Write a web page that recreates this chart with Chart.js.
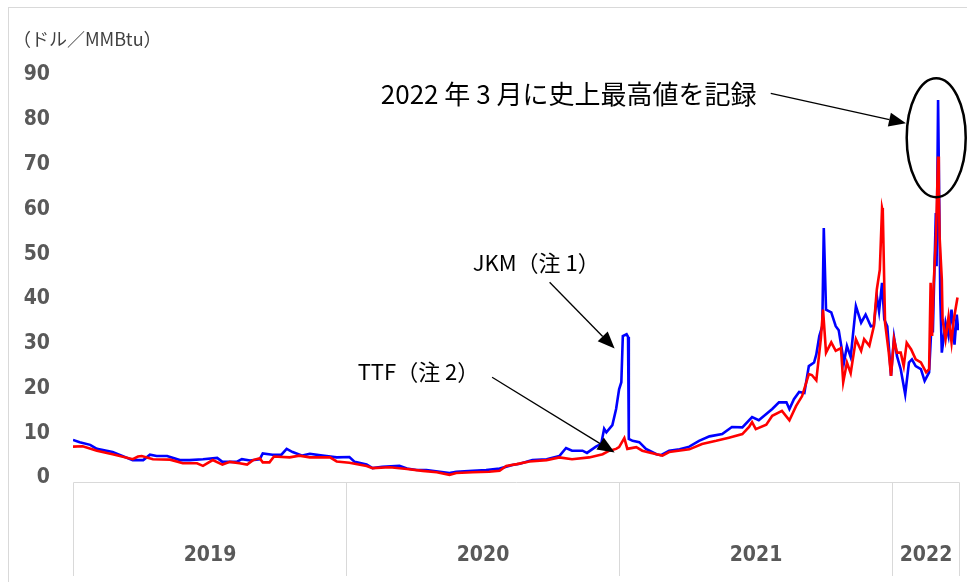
<!DOCTYPE html>
<html lang="ja">
<head>
<meta charset="utf-8">
<title>JKM / TTF</title>
<script src="https://cdn.jsdelivr.net/npm/chart.js@4.4.1/dist/chart.umd.min.js"></script>
<style>
  html, body { margin: 0; padding: 0; background: #fff; }
  #wrap { position: relative; width: 967px; height: 582px; overflow: hidden; }
  #frame { position: absolute; left: 8px; top: 7px; width: 970px; height: 590px; border: 1px solid #d9d9d9; }
  #chart { position: absolute; left: 0; top: 0; }
</style>
</head>
<body>
<div id="wrap">
  <div id="frame"></div>
  <canvas id="chart" width="967" height="582"></canvas>
</div>
<script>
// JKM (blue) and TTF (red), $/MMBtu
const jkmDates = [
  '2019-01-01', '2019-01-10', '2019-01-24', '2019-02-02', '2019-02-23', '2019-03-22', '2019-04-05', '2019-04-14',
  '2019-04-23', '2019-05-07', '2019-05-24', '2019-06-06', '2019-06-24', '2019-07-13', '2019-07-20', '2019-08-08',
  '2019-08-15', '2019-08-26', '2019-09-08', '2019-09-12', '2019-09-25', '2019-10-07', '2019-10-14', '2019-10-22',
  '2019-11-04', '2019-11-14', '2019-12-01', '2019-12-20', '2020-01-06', '2020-01-13', '2020-01-29', '2020-02-06',
  '2020-02-19', '2020-03-13', '2020-03-23', '2020-04-05', '2020-04-18', '2020-05-06', '2020-05-19', '2020-05-28',
  '2020-06-19', '2020-07-07', '2020-07-25', '2020-08-11', '2020-08-21', '2020-09-07', '2020-09-26', '2020-10-13',
  '2020-10-22', '2020-10-30', '2020-11-13', '2020-11-19', '2020-12-01', '2020-12-08', '2020-12-12', '2020-12-15',
  '2020-12-23', '2020-12-28', '2021-01-01', '2021-01-04', '2021-01-06', '2021-01-11', '2021-01-13', '2021-01-14',
  '2021-01-19', '2021-01-28', '2021-02-06', '2021-02-20', '2021-02-26', '2021-03-09', '2021-03-23', '2021-04-05',
  '2021-04-18', '2021-05-02', '2021-05-19', '2021-06-01', '2021-06-15', '2021-06-28', '2021-07-07', '2021-07-25',
  '2021-08-03', '2021-08-13', '2021-08-17', '2021-08-23', '2021-08-30', '2021-09-06', '2021-09-12', '2021-09-19',
  '2021-09-22', '2021-09-26', '2021-09-30', '2021-10-02', '2021-10-05', '2021-10-12', '2021-10-18', '2021-10-22',
  '2021-10-29', '2021-11-02', '2021-11-07', '2021-11-14', '2021-11-21', '2021-11-27', '2021-12-04', '2021-12-08',
  '2021-12-12', '2021-12-15', '2021-12-19', '2021-12-22', '2021-12-26', '2021-12-28', '2021-12-31', '2022-01-04',
  '2022-01-08', '2022-01-13', '2022-01-19', '2022-01-24', '2022-01-28', '2022-02-02', '2022-02-09', '2022-02-14',
  '2022-02-20', '2022-02-24', '2022-02-25', '2022-03-01', '2022-03-02', '2022-03-04', '2022-03-07', '2022-03-09',
  '2022-03-14', '2022-03-18', '2022-03-22', '2022-03-26', '2022-03-29', '2022-03-31'
];
const jkmPrices = [
  8.5, 8.0, 7.4, 6.5, 5.8, 4.0, 4.0, 5.2,
  4.9, 4.9, 4.0, 4.0, 4.2, 4.5, 3.6, 3.6,
  4.2, 3.9, 4.2, 5.5, 5.2, 5.2, 6.5, 5.8,
  5.0, 5.4, 5.0, 4.6, 4.7, 3.6, 3.0, 2.2,
  2.5, 2.7, 2.1, 1.8, 1.8, 1.4, 1.1, 1.4,
  1.6, 1.8, 2.1, 2.9, 3.2, 4.0, 4.2, 4.9,
  6.7, 6.1, 6.1, 5.6, 7.0, 7.6, 11.0, 10.2,
  11.8, 15.4, 19.8, 21.4, 31.7, 32.1, 31.5, 8.7,
  8.3, 8.0, 6.5, 5.3, 5.1, 6.1, 6.4, 7.0,
  8.3, 9.3, 9.8, 11.4, 11.3, 13.6, 12.9, 15.4,
  16.9, 16.9, 15.4, 17.6, 19.2, 19.0, 25.0, 25.8,
  27.6, 31.7, 33.9, 55.8, 37.6, 37.0, 33.9, 33.0,
  25.8, 29.5, 27.0, 38.4, 34.7, 36.5, 33.9, 34.0,
  40.6, 37.2, 43.6, 35.4, 33.9, 29.5, 22.8, 31.4,
  27.2, 24.3, 18.7, 25.8, 26.5, 25.0, 24.3, 21.7,
  23.6, 37.0, 32.5, 59.2, 47.3, 84.4, 40.0, 28.0,
  34.7, 31.7, 37.6, 29.8, 36.5, 33.0
];

const ttfDates = [
  '2019-01-01', '2019-01-14', '2019-02-02', '2019-02-23', '2019-03-22', '2019-03-29', '2019-04-03', '2019-04-18',
  '2019-05-11', '2019-05-28', '2019-06-16', '2019-06-24', '2019-07-07', '2019-07-20', '2019-07-30', '2019-08-12',
  '2019-08-22', '2019-08-30', '2019-09-08', '2019-09-12', '2019-09-21', '2019-09-27', '2019-10-18', '2019-10-31',
  '2019-11-14', '2019-12-11', '2019-12-20', '2020-01-06', '2020-01-29', '2020-02-06', '2020-02-29', '2020-03-23',
  '2020-04-13', '2020-05-02', '2020-05-19', '2020-05-28', '2020-06-19', '2020-07-11', '2020-07-25', '2020-08-03',
  '2020-08-17', '2020-09-03', '2020-09-26', '2020-10-13', '2020-10-30', '2020-11-22', '2020-12-10', '2020-12-19',
  '2020-12-28', '2021-01-01', '2021-01-08', '2021-01-12', '2021-01-24', '2021-02-01', '2021-02-20', '2021-02-28',
  '2021-03-09', '2021-04-05', '2021-04-22', '2021-05-11', '2021-05-28', '2021-06-15', '2021-06-24', '2021-06-28',
  '2021-07-03', '2021-07-17', '2021-07-25', '2021-08-07', '2021-08-17', '2021-08-26', '2021-09-03', '2021-09-12',
  '2021-09-16', '2021-09-22', '2021-09-28', '2021-10-01', '2021-10-05', '2021-10-12', '2021-10-18', '2021-10-25',
  '2021-10-28', '2021-11-02', '2021-11-07', '2021-11-14', '2021-11-21', '2021-11-25', '2021-12-02', '2021-12-08',
  '2021-12-12', '2021-12-16', '2021-12-19', '2021-12-20', '2021-12-23', '2021-12-28', '2021-12-31', '2022-01-04',
  '2022-01-08', '2022-01-13', '2022-01-17', '2022-01-21', '2022-01-27', '2022-02-02', '2022-02-09', '2022-02-16',
  '2022-02-20', '2022-02-22', '2022-02-24', '2022-02-26', '2022-03-01', '2022-03-02', '2022-03-04', '2022-03-05',
  '2022-03-06', '2022-03-09', '2022-03-10', '2022-03-14', '2022-03-18', '2022-03-22', '2022-03-25', '2022-03-30'
];
const ttfPrices = [
  7.0, 7.1, 6.1, 5.3, 4.2, 4.8, 4.9, 4.2,
  4.1, 3.3, 3.3, 2.7, 4.0, 3.0, 3.6, 3.3,
  3.0, 4.0, 4.4, 3.5, 3.5, 4.8, 4.6, 5.0,
  4.6, 4.6, 3.7, 3.4, 2.7, 2.2, 2.4, 2.0,
  1.6, 1.3, 0.7, 1.1, 1.3, 1.4, 1.6, 2.7,
  3.1, 3.7, 4.0, 4.6, 4.2, 4.6, 5.3, 6.1,
  6.5, 6.9, 8.9, 6.5, 6.9, 6.1, 5.3, 5.0,
  5.8, 6.4, 7.6, 8.3, 9.0, 9.8, 11.4, 12.5,
  10.9, 11.9, 13.9, 15.0, 12.9, 16.1, 18.3, 23.2,
  23.0, 21.8, 31.0, 37.6, 28.0, 30.3, 28.4, 29.0,
  21.4, 25.8, 23.4, 31.0, 28.4, 31.0, 29.5, 33.9,
  42.1, 46.5, 60.3, 59.5, 34.7, 28.0, 22.8, 31.0,
  28.0, 28.0, 25.0, 30.2, 28.7, 26.5, 25.8, 23.6,
  24.3, 43.6, 31.7, 43.0, 53.2, 59.2, 71.8, 64.4,
  54.0, 44.3, 35.4, 31.0, 36.0, 30.3, 35.4, 40.3
];

const yearStarts = ['2019-01-01', '2020-01-01', '2021-01-01', '2022-01-01'];
const yearLabels = ['2019', '2020', '2021', '2022'];
const rangeEnd = '2022-04-01';
const unitLabel = '（ドル／MMBtu）';
const peakNote = '2022 年 3 月に史上最高値を記録';
const jkmNote = 'JKM（注 1）';
const ttfNote = 'TTF（注 2）';

const dayOf = s => (Date.parse(s) - Date.parse('2019-01-01')) / 86400000;
const toPoints = (dates, values) => dates.map((d, i) => ({ x: dayOf(d), y: values[i] }));

function arrow(ctx, a, b) {
  const ang = Math.atan2(b.y - a.y, b.x - a.x);
  const len = 17, half = 7;
  const bx = b.x - len * Math.cos(ang), by = b.y - len * Math.sin(ang);
  ctx.beginPath();
  ctx.moveTo(a.x, a.y);
  ctx.lineTo(bx, by);
  ctx.stroke();
  ctx.beginPath();
  ctx.moveTo(b.x, b.y);
  ctx.lineTo(bx + half * Math.sin(ang), by - half * Math.cos(ang));
  ctx.lineTo(bx - half * Math.sin(ang), by + half * Math.cos(ang));
  ctx.closePath();
  ctx.fill();
}

const decorations = {
  id: 'decorations',
  afterDraw(chart) {
    const { ctx, chartArea, scales: { x, y } } = chart;
    const at = (date, value) => ({ x: x.getPixelForValue(dayOf(date)), y: y.getPixelForValue(value) });
    ctx.save();

    ctx.fillStyle = '#404040';
    ctx.font = "18px 'Noto Sans CJK JP'";
    ctx.textBaseline = 'middle';
    ctx.textAlign = 'left';
    ctx.fillText(unitLabel, 13, 39);

    // year boxes under the plot
    const boxTop = chartArea.bottom + 4.5, boxBottom = 576;
    const edges = yearStarts.concat([rangeEnd]).map(d => Math.round(x.getPixelForValue(dayOf(d))) + 0.5);
    ctx.strokeStyle = '#d9d9d9';
    ctx.lineWidth = 1;
    ctx.beginPath();
    ctx.moveTo(edges[0], boxTop);
    ctx.lineTo(edges[edges.length - 1], boxTop);
    edges.forEach(e => { ctx.moveTo(e, boxTop); ctx.lineTo(e, boxBottom); });
    ctx.stroke();
    ctx.fillStyle = '#595959';
    ctx.font = "bold 21px 'DejaVu Sans Condensed', 'DejaVu Sans'";
    ctx.textAlign = 'center';
    yearLabels.forEach((label, i) => ctx.fillText(label, (edges[i] + edges[i + 1]) / 2, 556));

    // notes and arrows
    ctx.fillStyle = '#000';
    ctx.strokeStyle = '#000';
    ctx.lineWidth = 1.3;
    ctx.textAlign = 'left';
    ctx.font = "26px 'Noto Sans CJK JP'";
    const p1 = at('2020-02-17', 85.7);
    ctx.fillText(peakNote, p1.x, p1.y);
    arrow(ctx, at('2021-07-23', 85.9), at('2022-01-20', 79.2));

    const l = at('2022-01-21', 89.3), r = at('2022-04-10', 62.7);
    ctx.lineWidth = 2.5;
    ctx.beginPath();
    ctx.ellipse((l.x + r.x) / 2, (l.y + r.y) / 2, (r.x - l.x) / 2, (r.y - l.y) / 2, 0, 0, Math.PI * 2);
    ctx.stroke();

    ctx.lineWidth = 1.3;
    ctx.font = "22px 'Noto Sans CJK JP'";
    const p2 = at('2020-06-19', 48.0);
    ctx.fillText(jkmNote, p2.x, p2.y);
    arrow(ctx, at('2020-09-30', 43.7), at('2020-12-26', 28.9));
    const p3 = at('2020-01-17', 23.8);
    ctx.fillText(ttfNote, p3.x, p3.y);
    arrow(ctx, at('2020-07-15', 22.5), at('2020-12-26', 5.7));

    ctx.restore();
  }
};

new Chart(document.getElementById('chart').getContext('2d'), {
  type: 'line',
  data: {
    datasets: [
      { label: 'TTF', data: toPoints(ttfDates, ttfPrices), borderColor: '#ff0000', borderWidth: 2.6, pointRadius: 0, tension: 0, order: 0 },
      { label: 'JKM', data: toPoints(jkmDates, jkmPrices), borderColor: '#0000ff', borderWidth: 2.6, pointRadius: 0, tension: 0, order: 1 }
    ]
  },
  options: {
    responsive: false,
    animation: false,
    layout: { padding: { left: 0, right: 8, top: 75, bottom: 104 } },
    plugins: { legend: { display: false }, tooltip: { enabled: false } },
    scales: {
      x: { type: 'linear', min: 0, max: dayOf(rangeEnd), display: false },
      y: {
        min: 0,
        max: 90,
        grid: { display: false, drawTicks: false },
        border: { display: false },
        afterFit: scale => { scale.width = 73; },
        ticks: {
          stepSize: 10,
          padding: 23,
          color: '#595959',
          font: { family: "'DejaVu Sans Condensed', 'DejaVu Sans'", size: 21, weight: 'bold' }
        }
      }
    }
  },
  plugins: [decorations]
});
</script>
</body>
</html>
